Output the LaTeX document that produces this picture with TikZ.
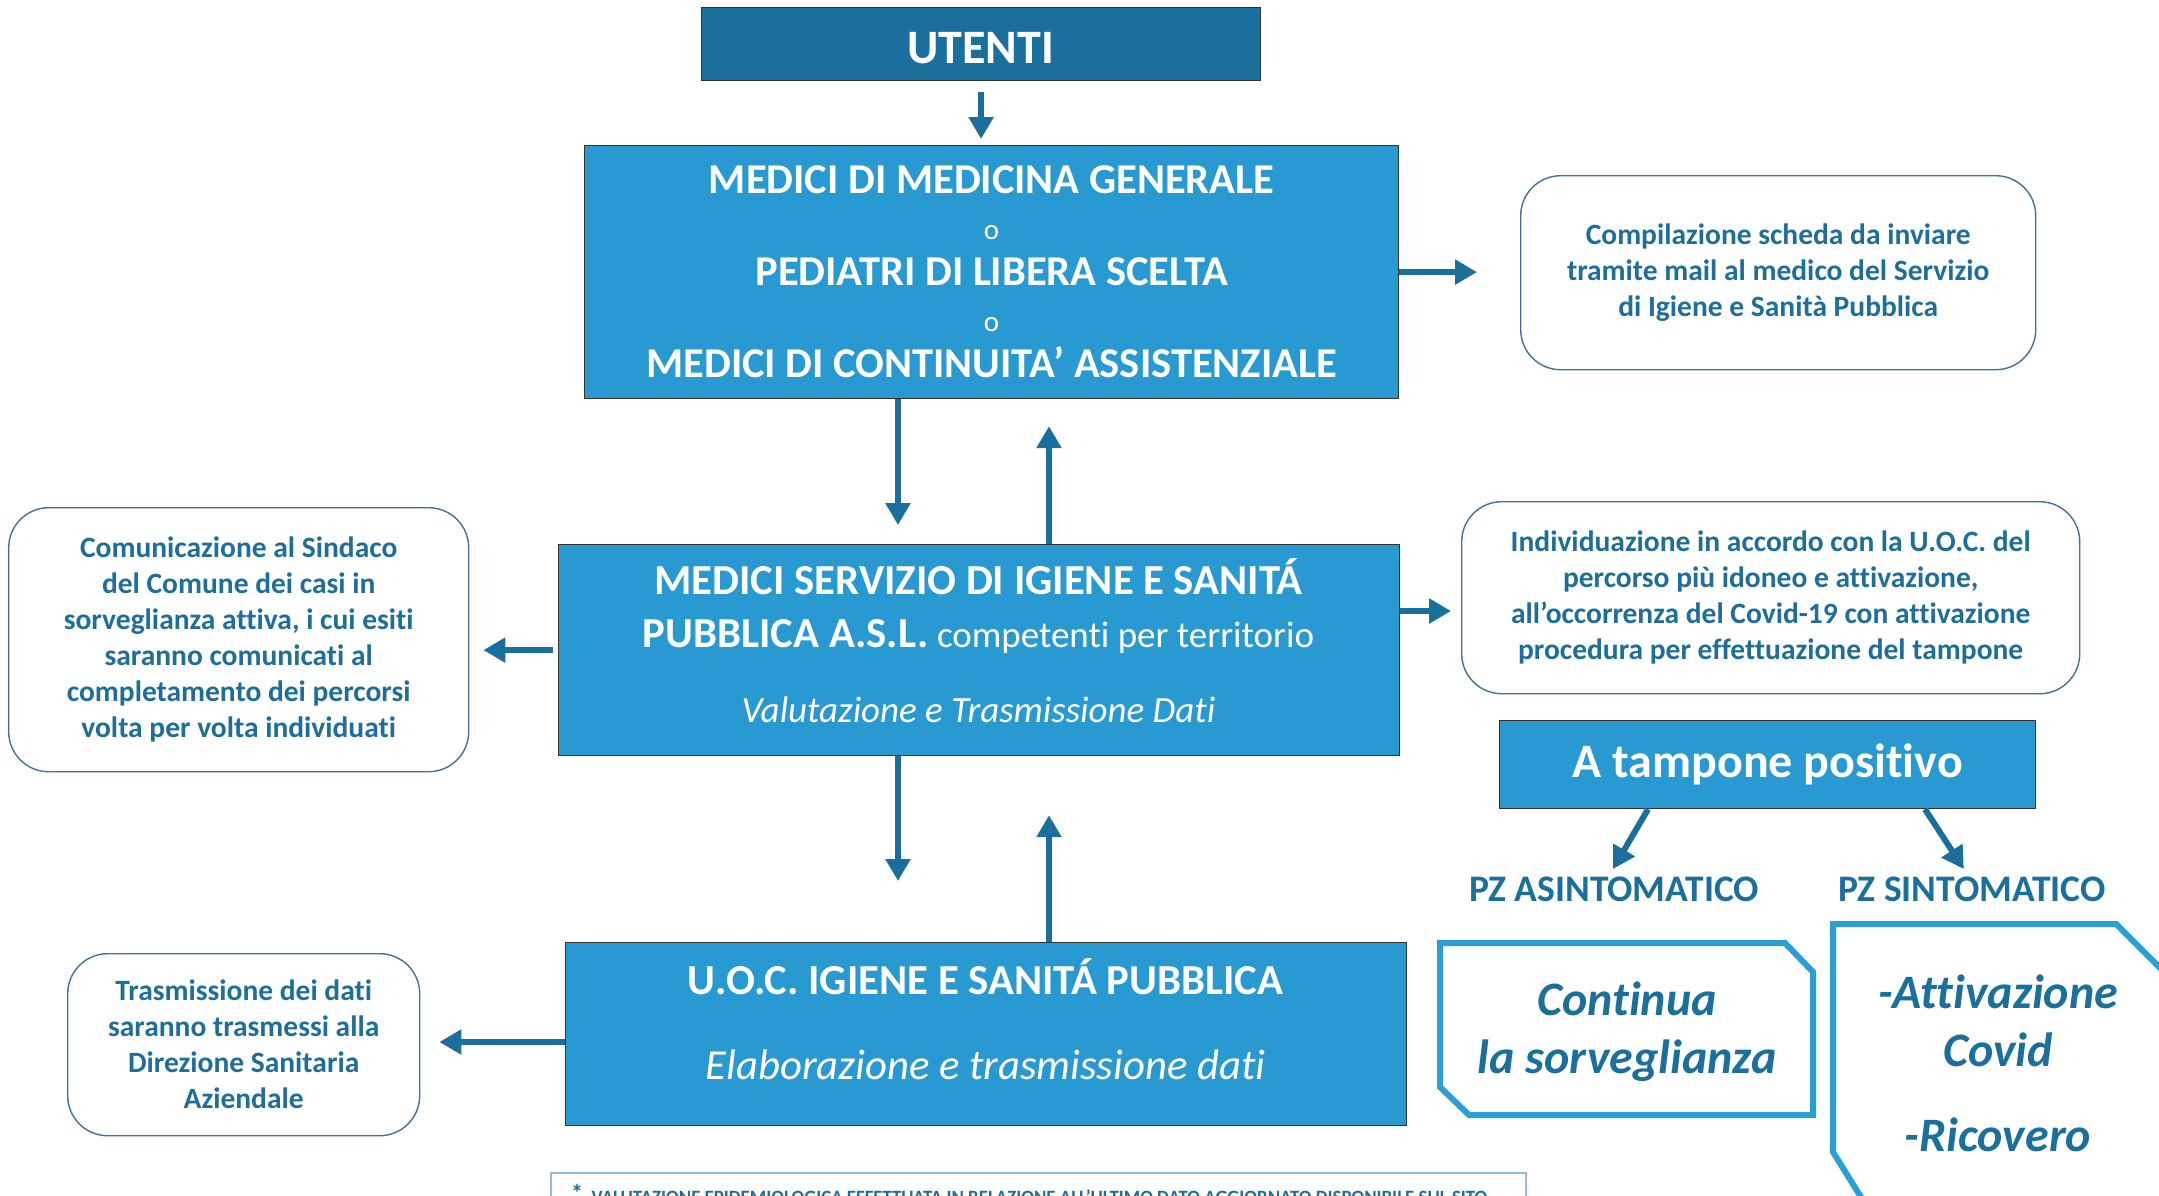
\documentclass[tikz,border=0pt]{standalone}
\usepackage{fontspec}
\setmainfont{Carlito}[Ligatures=NoCommon]
\usetikzlibrary{arrows.meta,calc}
\definecolor{dkblue}{RGB}{26,111,156}
\definecolor{mdblue}{RGB}{40,153,209}
\definecolor{ocblue}{RGB}{44,158,214}
\definecolor{rbord}{RGB}{65,113,156}
\definecolor{txblue}{RGB}{29,110,155}
\definecolor{fnbord}{RGB}{150,185,225}
\begin{document}
\begin{tikzpicture}[x=1pt,y=-1pt,
  mainbox/.style={draw=black!80, line width=1.2pt, fill=mdblue, text=white, align=center, inner sep=0pt, anchor=north west},
  boxtext/.style={text=white, align=center, inner sep=0pt},
  rbox/.style={draw=rbord, line width=1.4pt, rounded corners=40pt, text=txblue, align=center, inner sep=0pt, anchor=north west,
     font=\bfseries\fontsize{29.5}{36}\selectfont},
  arr/.style={draw=dkblue, line width=6pt, -{Triangle[length=22pt,width=24pt]}},
  octo/.style={draw=ocblue, line width=6pt, line join=miter},
  pzlabel/.style={text=dkblue, font=\bfseries\fontsize{37.5}{42}\selectfont, inner sep=2pt},
  octtext/.style={text=dkblue, align=center, font=\bfseries\itshape\fontsize{48}{58}\selectfont, inner sep=0pt}
]
\useasboundingbox (0,0) rectangle (2159,1195);
\clip (0,0) rectangle (2159,1195);
\fill[white] (0,0) rectangle (2159,1195);

% coordinates for vertical / horizontal connector lines
\coordinate (xA) at (898,0);
\coordinate (xB) at (1049,0);
\coordinate (yC) at (0,611);
\coordinate (yD) at (0,1042);
\coordinate (xE) at (1648,0);
\coordinate (xF) at (1925,0);

% main boxes
\node[mainbox, fill=dkblue, minimum width=559, minimum height=73] (utenti) at (701,7) {};
\node[boxtext, font=\bfseries\fontsize{48}{50}\selectfont] (utentitext) at (980.5,48) {UTENTI};

\node[mainbox, minimum width=814, minimum height=253,
      font=\bfseries\fontsize{42.5}{46}\selectfont] (mmg) at (584,145)
  {MEDICI DI MEDICINA GENERALE\\
   {\mdseries\fontsize{29}{46}\selectfont o}\\
   PEDIATRI DI LIBERA SCELTA\\
   {\mdseries\fontsize{29}{46}\selectfont o}\\
   MEDICI DI CONTINUITA’ ASSISTENZIALE};

\node[mainbox, minimum width=841, minimum height=211] (msisp) at (558,544) {};
\node[boxtext, font=\bfseries\fontsize{42.7}{53}\selectfont] (msisptext) at (978.5,641)
  {MEDICI SERVIZIO DI IGIENE E SANITÁ\\
   PUBBLICA A.S.L.{\mdseries\fontsize{37}{53}\selectfont\ competenti per territorio}\\[22pt]
   {\mdseries\itshape\fontsize{37}{53}\selectfont Valutazione e Trasmissione Dati}};

\node[mainbox, minimum width=841, minimum height=183] (uoc) at (565,942) {};
\node[boxtext, font=\bfseries\fontsize{42.7}{53}\selectfont] (uoctext) at (985.5,1019)
  {U.O.C. IGIENE E SANITÁ PUBBLICA\\[32pt]
   {\mdseries\itshape\fontsize{42.7}{53}\selectfont Elaborazione e trasmissione dati}};

\node[mainbox, minimum width=536, minimum height=88,
      font=\bfseries\fontsize{48}{52}\selectfont] (tamp) at (1499,720) {A tampone positivo};

% rounded boxes
\node[rbox, minimum width=515, minimum height=194] (comp) at (1520,175)
  {Compilazione scheda da inviare\\tramite mail al medico del Servizio\\di Igiene e Sanità Pubblica};
\node[rbox, minimum width=618, minimum height=192] (indiv) at (1461,501)
  {Individuazione in accordo con la U.O.C. del\\percorso più idoneo e attivazione,\\all’occorrenza del Covid-19 con attivazione\\procedura per effettuazione del tampone};
\node[rbox, minimum width=460, minimum height=264] (comun) at (8,507)
  {Comunicazione al Sindaco\\del Comune dei casi in\\sorveglianza attiva, i cui esiti\\saranno comunicati al\\completamento dei percorsi\\volta per volta individuati};
\node[rbox, minimum width=352, minimum height=182] (trasm) at (67,953)
  {Trasmissione dei dati\\saranno trasmessi alla\\Direzione Sanitaria\\Aziendale};

% PZ labels
\node[pzlabel] (pza) at (1614,889) {PZ ASINTOMATICO};
\node[pzlabel] (pzs) at (1972,889) {PZ SINTOMATICO};

% cut-corner boxes
\draw[octo] (1440,943) -- (1785,943) -- (1813,972) -- (1813,1115) -- (1469,1115) -- (1440,1087) -- cycle;
\node[octtext] (cont) at (1627,1032) {Continua\\la sorveglianza};
\draw[octo] (1833,924) -- (2116,924) -- (2200,1008) -- (2200,1260) -- (1900,1260) -- (1833,1152) -- cycle;
\node[octtext] (attiv) at (1998,1021) {-Attivazione\\Covid};
\node[octtext] (ricov) at (1998,1135) {-Ricovero};

% footnote box
\draw[fnbord, line width=1.5pt] (551,1173) rectangle (1526,1230);
\node[anchor=base west, text=txblue, inner sep=0pt, font=\bfseries\fontsize{18.8}{20}\selectfont] (fn) at (571,1203)
  {\raisebox{2pt}{\fontsize{24}{20}\selectfont *}\ \ VALUTAZIONE EPIDEMIOLOGICA EFFETTUATA IN RELAZIONE ALL’ULTIMO DATO AGGIORNATO DISPONIBILE SUL SITO};

% connectors
\draw[arr, shorten <=11pt, shorten >=6pt] (utenti.south) -- (utenti.south |- mmg.north);
\draw[arr, shorten >=43pt] (mmg.east) -- (comp.west |- mmg.east);
\draw[arr, shorten >=19pt] (mmg.south -| xA) -- (msisp.north -| xA);
\draw[arr, shorten >=27pt] (msisp.north -| xB) -- (mmg.south -| xB);
\draw[arr, shorten <=5pt, shorten >=14pt] (msisp.west) -- (comun.east |- msisp.west);
\draw[arr, shorten >=10pt] (msisp.east |- yC) -- (indiv.west |- yC);
\draw[arr, shorten >=61pt] (msisp.south -| xA) -- (uoc.north -| xA);
\draw[arr, shorten >=59pt] (uoc.north -| xB) -- (msisp.south -| xB);
\draw[arr, shorten >=19pt] (uoc.west |- yD) -- (trasm.east |- yD);
\draw[arr, shorten >=4pt] (tamp.south -| xE) -- ($(pza.north)+(-3,-2)$);
\draw[arr, shorten >=4pt] (tamp.south -| xF) -- ($(pzs.north)+(-6,-2)$);
\end{tikzpicture}
\end{document}
